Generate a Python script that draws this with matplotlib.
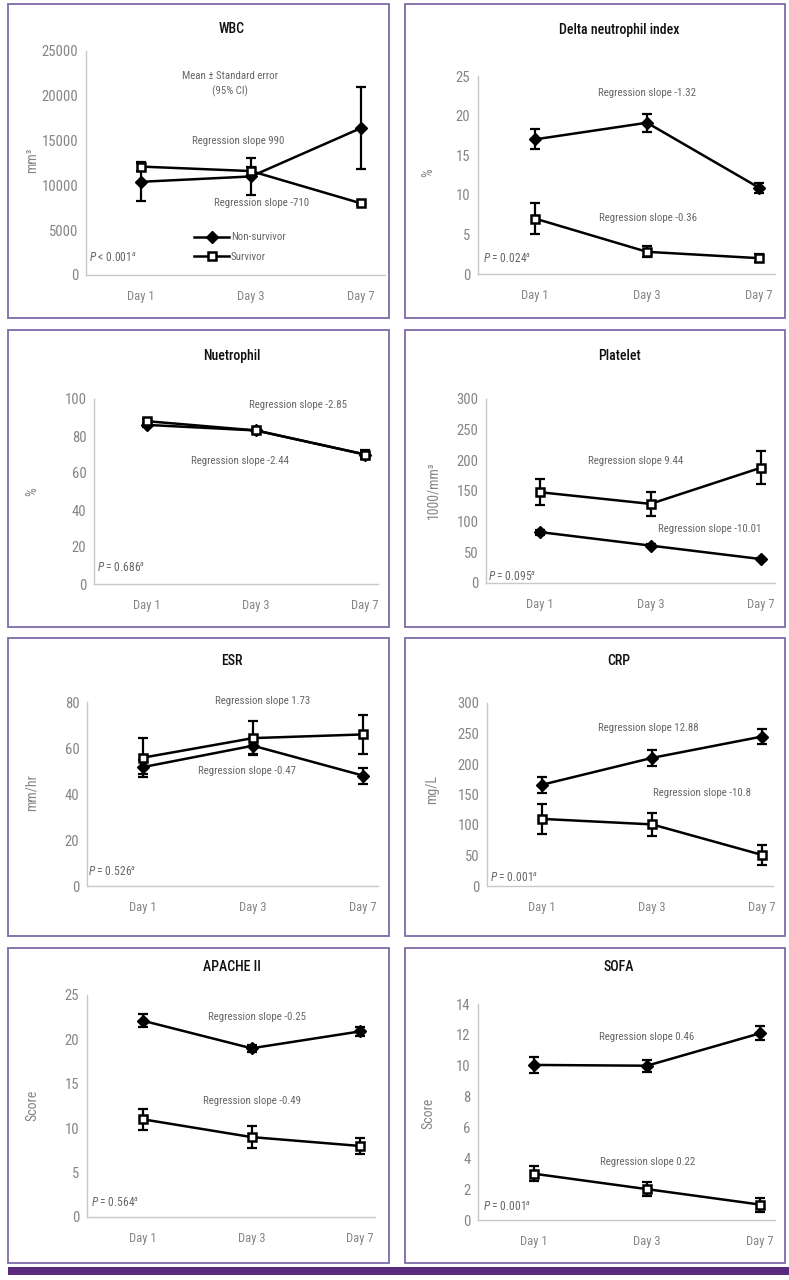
import matplotlib
matplotlib.use('Agg')
import matplotlib.pyplot as plt
from matplotlib.patches import Rectangle

plt.rcParams['font.family'] = ['Roboto Condensed', 'Liberation Sans Narrow',
                               'Liberation Sans', 'DejaVu Sans']
plt.rcParams['mathtext.fontset'] = 'custom'
plt.rcParams['mathtext.rm'] = 'Roboto Condensed'
plt.rcParams['mathtext.it'] = 'Roboto Condensed:italic'

W, H = 789, 1280

days = ['Day 1', 'Day 3', 'Day 7']

# mean and error (SE)
wbc_non = [10400, 11000, 16400]
wbc_non_err = [2100, 2100, 4600]
wbc_surv = [12100, 11600, 8000]
wbc_surv_err = [500, 400, 200]

dni_non = [17.0, 19.1, 10.9]
dni_non_err = [1.25, 1.15, 0.65]
dni_surv = [7.0, 2.8, 2.0]
dni_surv_err = [2.0, 0.7, 0.5]

neu_non = [86, 83, 70]
neu_non_err = [1.0, 1.0, 2.5]
neu_surv = [88, 83, 70]
neu_surv_err = [1.0, 1.0, 2.0]

plt_non = [83, 61, 39]
plt_non_err = [4, 2, 2]
plt_surv = [148, 129, 188]
plt_surv_err = [21, 20, 27]

esr_non = [51.7, 61, 48]
esr_non_err = [3, 3.5, 3.5]
esr_surv = [55.8, 64.3, 65.9]
esr_surv_err = [8.5, 7.4, 8.3]

crp_non = [166, 210, 245]
crp_non_err = [13, 13, 12.5]
crp_surv = [110, 101, 51]
crp_surv_err = [25, 19, 16]

apache_non = [22.1, 19.0, 20.9]
apache_non_err = [0.75, 0.4, 0.5]
apache_surv = [11.0, 9.0, 8.0]
apache_surv_err = [1.2, 1.25, 0.9]

sofa_non = [10.05, 10.0, 12.1]
sofa_non_err = [0.5, 0.4, 0.45]
sofa_surv = [3.0, 2.0, 1.0]
sofa_surv_err = [0.5, 0.45, 0.45]

GRAY = '#858585'
TXT = '#666666'
BORDER = '#7e6aa8'

fig = plt.figure(figsize=(W / 100, H / 100), dpi=100)


def ftext(x, y, s, **kw):
    kw.setdefault('ha', 'center')
    kw.setdefault('va', 'center')
    fig.text(x / W, 1 - y / H, s, **kw)


def panel(box, axbox, x0, dx, ymax, ystep, title, tx, ylab, ylx, yly,
          non, non_err, surv, surv_err, notes, ptxt, pxy):
    # purple frame
    bl, bt, br, bb = box
    fig.patches.append(Rectangle((bl / W, 1 - bb / H), (br - bl) / W, (bb - bt) / H,
                                 transform=fig.transFigure, fill=False,
                                 edgecolor=BORDER, lw=1.3))
    l, t, r, b = axbox
    ax = fig.add_axes([l / W, 1 - b / H, (r - l) / W, (b - t) / H])
    ax.set_facecolor('none')
    x = [0, 1, 2]
    ax.errorbar(x, non, yerr=non_err, fmt='none', ecolor='black', elinewidth=1.6,
                capsize=3.5, capthick=1.6, zorder=3)
    ax.errorbar(x, surv, yerr=surv_err, fmt='none', ecolor='black', elinewidth=1.6,
                capsize=3.5, capthick=1.6, zorder=3)
    ln1, = ax.plot(x, non, color='black', lw=1.8, marker='D', ms=6,
                   mfc='black', mec='black', zorder=4, label='Non-survivor')
    ln2, = ax.plot(x, surv, color='black', lw=1.8, marker='s', ms=6,
                   mfc='white', mec='black', mew=1.8, zorder=5, label='Survivor')
    ax.set_xlim((l - x0) / dx, (r - x0) / dx)
    ax.set_ylim(0, ymax)
    ax.set_yticks(range(0, ymax + 1, ystep))
    ax.set_xticks(x)
    ax.set_xticklabels(days)
    for s in ['top', 'right']:
        ax.spines[s].set_visible(False)
    for s in ['left', 'bottom']:
        ax.spines[s].set_color('#c8c8c8')
        ax.spines[s].set_linewidth(1.0)
    ax.tick_params(axis='both', length=0, colors=GRAY)
    ax.tick_params(axis='y', pad=5.5, labelsize=10.5)
    ax.tick_params(axis='x', pad=10.5, labelsize=9)
    ftext(tx, title[1], title[0], fontsize=10, color='#111111', fontweight='medium')
    ftext(ylx, yly, ylab, fontsize=10, color=GRAY, rotation=90)
    for nx, ny, s in notes:
        ftext(nx, ny, s, fontsize=7.8, color=TXT)
    ftext(pxy[0], pxy[1], ptxt, fontsize=8.3, color=TXT, ha='left')
    return ax, ln1, ln2


ax, l1, l2 = panel((8, 4, 389, 318), (86, 51, 385, 275), 141, 110, 25000, 5000,
                   ('WBC', 29), 232, 'mm³', 32, 160,
                   wbc_non, wbc_non_err, wbc_surv, wbc_surv_err,
                   [(230, 76, 'Mean ± Standard error'), (230, 91, '(95% CI)'),
                    (238, 141, 'Regression slope 990'), (262, 203, 'Regression slope -710')],
                   r'$\it{P}$ < 0.001$^{a}$', (89, 258))
fig.legend(handles=[l1, l2], loc='upper left', bbox_to_anchor=(189 / W, 1 - 227 / H),
           frameon=False, fontsize=7.8, labelcolor=TXT, handlelength=3.2,
           handletextpad=0.15, labelspacing=0.85, borderpad=0, numpoints=1)

panel((405, 4, 785, 318), (478, 76, 775, 274), 535, 112, 25, 5,
      ('Delta neutrophil index', 30), 619, '%', 428, 173,
      dni_non, dni_non_err, dni_surv, dni_surv_err,
      [(647, 93, 'Regression slope -1.32'), (648, 218, 'Regression slope -0.36')],
      r'$\it{P}$ = 0.024$^{a}$', (483, 259))

panel((8, 330, 389, 627), (94, 399, 378, 584), 147, 109, 100, 20,
      ('Nuetrophil', 356), 232, '%', 32, 492,
      neu_non, neu_non_err, neu_surv, neu_surv_err,
      [(298, 405, 'Regression slope -2.85'), (240, 461, 'Regression slope -2.44')],
      r'$\it{P}$ = 0.686$^{a}$', (97, 568))

panel((405, 330, 785, 627), (486, 399, 775, 583), 540, 110.5, 300, 50,
      ('Platelet', 356), 619, '1000/mm³', 433, 490,
      plt_non, plt_non_err, plt_surv, plt_surv_err,
      [(636, 461, 'Regression slope 9.44'), (710, 529, 'Regression slope -10.01')],
      r'$\it{P}$ = 0.095$^{a}$', (488, 577))

panel((8, 638, 389, 936), (87, 702, 378, 886), 143, 110, 80, 20,
      ('ESR', 661), 232, 'mm/hr', 32, 793,
      esr_non, esr_non_err, esr_surv, esr_surv_err,
      [(263, 701, 'Regression slope 1.73'), (247, 771, 'Regression slope -0.47')],
      r'$\it{P}$ = 0.526$^{a}$', (88, 872))

panel((405, 638, 785, 936), (487, 703, 773, 886), 542, 110, 300, 50,
      ('CRP', 661), 619, 'mg/L', 432, 790,
      crp_non, crp_non_err, crp_surv, crp_surv_err,
      [(648, 728, 'Regression slope 12.88'), (702, 793, 'Regression slope -10.8')],
      r'$\it{P}$ = 0.001$^{a}$', (490, 878))

panel((8, 948, 389, 1263), (87, 995, 375, 1217), 143, 108.5, 25, 5,
      ('APACHE II', 967), 232, 'Score', 32, 1105,
      apache_non, apache_non_err, apache_surv, apache_surv_err,
      [(257, 1017, 'Regression slope -0.25'), (252, 1101, 'Regression slope -0.49')],
      r'$\it{P}$ = 0.564$^{a}$', (91, 1203))

panel((405, 948, 785, 1263), (478, 1004, 775, 1220), 534, 113, 14, 2,
      ('SOFA', 967), 619, 'Score', 428, 1113,
      sofa_non, sofa_non_err, sofa_surv, sofa_surv_err,
      [(647, 1037, 'Regression slope 0.46'), (648, 1162, 'Regression slope 0.22')],
      r'$\it{P}$ = 0.001$^{a}$', (483, 1207))

# purple bar at the bottom
fig.patches.append(Rectangle((8 / W, 1 - 1275 / H), (789 - 8) / W, 8 / H,
                             transform=fig.transFigure, color='#5a2b7c', lw=0))

fig.savefig('out.png', dpi=100)
